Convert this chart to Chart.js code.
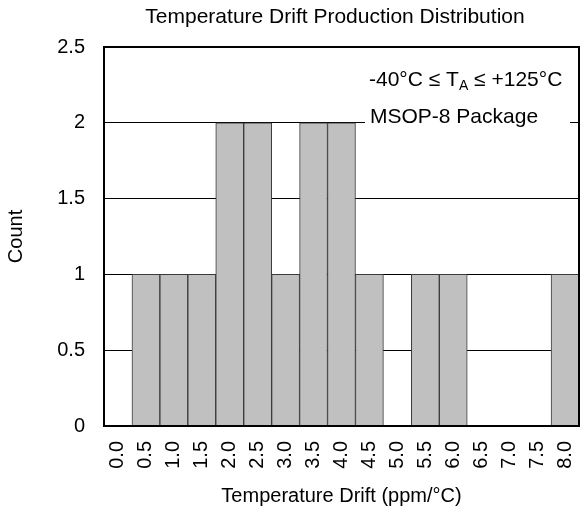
<!DOCTYPE html>
<html>
<head>
<meta charset="utf-8">
<script src="https://cdn.jsdelivr.net/npm/chart.js@4/dist/chart.umd.min.js"></script>
<style>
html,body{margin:0;padding:0;background:#fff;}
#wrap{width:587px;height:514px;position:relative;}
</style>
</head>
<body>
<div id="wrap"><canvas id="c" width="587" height="514"></canvas></div>
<script>
const categories = ["0.0","0.5","1.0","1.5","2.0","2.5","3.0","3.5","4.0","4.5","5.0","5.5","6.0","6.5","7.0","7.5","8.0"];
const counts = [0,1,1,1,2,2,1,2,2,1,0,1,1,0,0,0,1];
const yTicks = [0,0.5,1,1.5,2,2.5];
const titleText = "Temperature Drift Production Distribution";
const xTitle = "Temperature Drift (ppm/\u00B0C)";
const yTitle = "Count";
const FONT = "'Liberation Sans', Arial, sans-serif";
const FS = 20;
const FA = 21;

const framePlugin = {
  id: 'frame',
  afterDatasetsDraw(chart) {
    const {ctx, chartArea: a} = chart;
    ctx.save();
    ctx.fillStyle = "#000";
    ctx.textBaseline = "middle";
    // title
    ctx.font = FA + "px " + FONT;
    ctx.textAlign = "center";
    ctx.fillText(titleText, 335, 17);
    // annotations
    ctx.textAlign = "left";
    const x0 = 369;
    const y1 = 80;
    const s1 = "-40\u00B0C \u2264 T";
    ctx.fillText(s1, x0, y1);
    const w = ctx.measureText(s1).width;
    ctx.font = "14px " + FONT;
    ctx.fillText("A", x0 + w, y1 + 6);
    const wA = ctx.measureText("A").width;
    ctx.font = FA + "px " + FONT;
    ctx.fillText(" \u2264 +125\u00B0C", x0 + w + wA, y1);
    const y2 = 117;
    const s2 = "MSOP-8 Package";
    ctx.fillStyle = "#fff";
    ctx.fillRect(365, y2 - 12, 570 - 365, 22);
    ctx.fillStyle = "#000";
    ctx.fillText(s2, x0 + 1, y2);
    // frame
    ctx.strokeStyle = "#000";
    ctx.lineWidth = 2;
    ctx.strokeRect(a.left, a.top, a.right - a.left, a.bottom - a.top);
    ctx.restore();
  }
};

new Chart(document.getElementById('c'), {
  type: 'bar',
  data: {
    labels: categories,
    datasets: [{
      data: counts,
      backgroundColor: '#c0c0c0',
      borderColor: '#3a3a3a',
      borderWidth: 1,
      borderSkipped: 'bottom',
      barPercentage: 1,
      categoryPercentage: 1
    }]
  },
  options: {
    responsive: false,
    animation: false,
    layout: {padding: {left: 0, right: 8, top: 47, bottom: 0}},
    plugins: {
      legend: {display: false},
      tooltip: {enabled: false},
      title: {display: false}
    },
    scales: {
      x: {
        grid: {display: false, drawTicks: false},
        border: {display: false},
        ticks: {
          color: '#000',
          font: {family: FONT, size: FS},
          maxRotation: 90, minRotation: 90,
          padding: 15,
          autoSkip: false
        },
        title: {
          display: true, text: xTitle, color: '#000',
          font: {family: FONT, size: FS},
          padding: {top: 0, bottom: 6}
        },
        afterFit(s) { s.height = 88; s.paddingLeft = 0; s.paddingRight = 0; }
      },
      y: {
        min: 0, max: 2.5,
        afterBuildTicks(s) { s.ticks = yTicks.map(v => ({value: v})); },
        grid: {color: '#000', lineWidth: 1, drawTicks: false},
        border: {display: false},
        ticks: {
          color: '#000',
          font: {family: FONT, size: FS},
          padding: 19,
          callback: v => String(v)
        },
        title: {
          display: true, text: yTitle, color: '#000',
          font: {family: FONT, size: FS},
          padding: {top: 4, bottom: 0}
        },
        afterFit(s) { s.width = 104; s.paddingTop = 0; s.paddingBottom = 0; }
      }
    }
  },
  plugins: [framePlugin]
});
</script>
</body>
</html>
